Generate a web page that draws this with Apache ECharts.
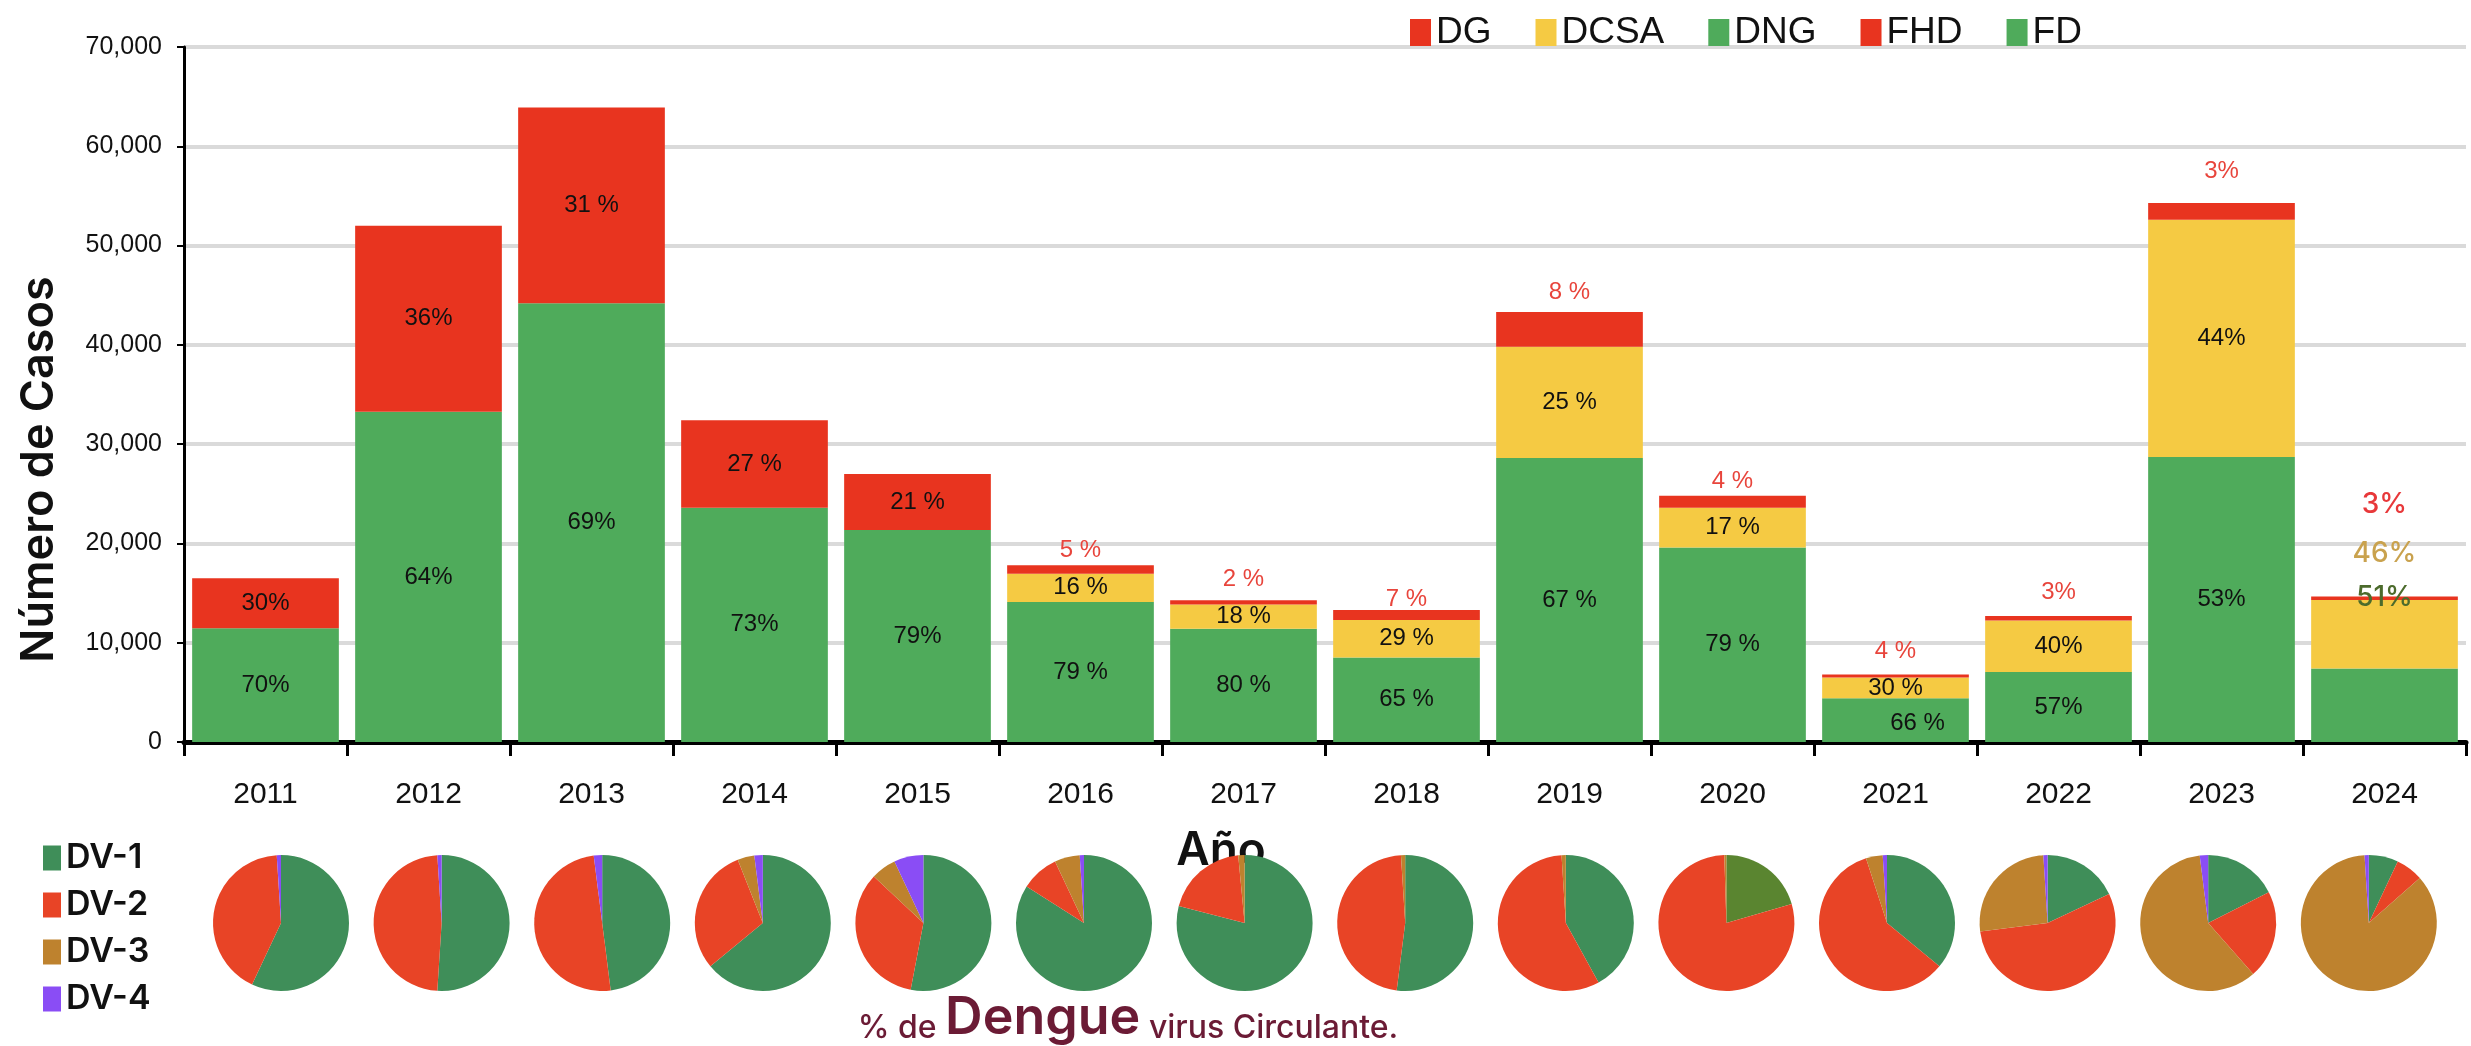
<!DOCTYPE html>
<html lang="es">
    <head>
        <meta charset="utf-8" />
        <title>Dengue - casos por año</title>
        <script src="https://cdn.jsdelivr.net/npm/echarts@6/dist/echarts.min.js"></script>
        <style>
            html, body { margin: 0; padding: 0; background: #fff; }
        </style>
    </head>
    <body>
    <div id="main" style="width: 2471px;height:1046px;"></div>
    <script type="text/javascript">
        // años
        const years = ['2011', '2012', '2013', '2014', '2015', '2016', '2017',
                       '2018', '2019', '2020', '2021', '2022', '2023', '2024'];

        // casos por clasificación
        const fdValues   = [11450, 33260, 44200, 23600, 21350, null, null, null, null, null, null, null, null, null];
        const fhdValues  = [5050, 18740, 19700, 8800, 5650, null, null, null, null, null, null, null, null, null];
        const dngValues  = [null, null, null, null, null, 14100, 11400, 8500, 28600, 19600, 4400, 7050, 28700, 7400];
        const dcsaValues = [null, null, null, null, null, 2850, 2450, 3800, 11200, 4000, 2100, 5200, 23900, 6900];
        const dgValues   = [null, null, null, null, null, 850, 430, 1000, 3500, 1200, 300, 450, 1700, 350];

        // etiquetas de porcentaje
        const greenLabels  = ['70%', '64%', '69%', '73%', '79%', '79 %', '80 %', '65 %', '67 %', '79 %', '66 %', '57%', '53%', '51%'];
        const yellowLabels = ['', '', '', '', '', '16 %', '18 %', '29 %', '25 %', '17 %', '30 %', '40%', '44%', '46%'];
        const redLabels    = ['30%', '36%', '31 %', '27 %', '21 %', '5 %', '2 %', '7 %', '8 %', '4 %', '4 %', '3%', '3%', '3%'];

        // % de serotipo circulante
        const serotypes = ['DV-1', 'DV-2', 'DV-3', 'DV-4'];
        const dv1 = [57, 51, 48, 64, 53, 84, 79, 52, 42, 20.5, 36, 18, 17.5, 7];
        const dv2 = [42, 48, 50, 30, 34, 9, 19.5, 47, 57, 79, 59, 55, 21, 6.5];
        const dv3 = [0, 0, 0, 4, 6, 6, 1.5, 1, 1, 0.5, 4, 26, 59.5, 85.5];
        const dv4 = [1, 1, 2, 2, 7, 1, 0, 0, 0, 0, 1, 1, 2, 1];

        const GREEN = '#4FAB5B', YELLOW = '#F5CA43', RED = '#E8341F';
        const pieColors = ['#3F8E59', '#E84426', '#BE822E', '#8A4DF5'];
        const sans = "'Liberation Sans', Arial, sans-serif";
        const geo = "Inter, 'Noto Sans', sans-serif";

        // distancia de las etiquetas rojas sobre la barra (2016+)
        const topGap = {5: 3, 6: 9, 7: -1, 8: 8, 9: 2, 10: 11, 11: 12, 12: 20};

        function build(values, labels, labelFn) {
            return values.map(function (v, i) {
                if (v == null) return null;
                const lab = Object.assign({formatter: labels[i]}, labelFn ? labelFn(i) : {});
                return {value: v, label: lab};
            });
        }

        const series = [
            {name: 'FD', data: build(fdValues, greenLabels), color: GREEN},
            {name: 'DNG', data: build(dngValues, greenLabels, function (i) {
                if (i === 10) return {offset: [22, 3]};
                if (i === 13) return {position: 'top', distance: 57, color: '#4C6B2C',
                    fontFamily: geo, fontWeight: 500, fontSize: 28};
                return {};
            }), color: GREEN},
            {name: 'DCSA', data: build(dcsaValues, yellowLabels, function (i) {
                if (i === 13) return {position: 'top', distance: 32, color: '#C9A24E',
                    fontFamily: geo, fontWeight: 500, fontSize: 28};
                return {};
            }), color: YELLOW},
            {name: 'FHD', data: build(fhdValues, redLabels), color: RED},
            {name: 'DG', data: build(dgValues, redLabels, function (i) {
                if (i === 13) return {position: 'top', distance: 78, color: '#E8383A',
                    fontFamily: geo, fontWeight: 500, fontSize: 28};
                return {position: 'top', distance: topGap[i], color: '#E8453C'};
            }), color: RED}
        ].map(function (s) {
            return Object.assign({
                type: 'bar',
                stack: 'total',
                barCategoryGap: '10%',
                itemStyle: {color: s.color},
                label: {show: true, position: 'inside', color: '#111',
                        fontFamily: sans, fontSize: 24},
                emphasis: {disabled: true}
            }, s);
        });

        // pasteles por año
        const pieX0 = 281, pieStep = 160.6, pieY = 923;
        years.forEach(function (y, i) {
            const vals = [dv1[i], dv2[i], dv3[i], dv4[i]];
            series.push({
                type: 'pie',
                name: 'pie' + y,
                center: [pieX0 + i * pieStep, pieY],
                radius: 68,
                startAngle: 90,
                silent: true,
                label: {show: false},
                labelLine: {show: false},
                data: serotypes.map(function (n, k) {
                    let c = pieColors[k];
                    if (y === '2020' && k === 0) c = '#5A8530';
                    return {name: n, value: vals[k], itemStyle: {color: c}};
                })
            });
        });

        const myChart = echarts.init(document.getElementById('main'));
        const option = {
            animation: false,
            backgroundColor: '#fff',
            grid: {left: 184, right: 5, top: 47, bottom: 304},
            legend: [{
                data: ['DG', 'DCSA', 'DNG', 'FHD', 'FD'],
                left: 1405,
                top: 9,
                icon: 'rect',
                itemWidth: 21,
                itemHeight: 27,
                itemGap: 44,
                textStyle: {fontFamily: sans, fontSize: 37, color: '#111'}
            }, {
                data: serotypes,
                orient: 'vertical',
                left: 38,
                top: 836,
                icon: 'rect',
                itemWidth: 18,
                itemHeight: 25,
                itemGap: 13,
                textStyle: {fontFamily: geo, fontWeight: 600, fontSize: 34, color: '#111'}
            }],
            xAxis: {
                type: 'category',
                data: years,
                axisLine: {lineStyle: {color: '#000', width: 5}},
                axisTick: {show: true, length: 14, lineStyle: {color: '#000', width: 3}},
                axisLabel: {fontFamily: sans, fontSize: 30, color: '#111', margin: 38}
            },
            yAxis: {
                type: 'value',
                min: 0,
                max: 70000,
                interval: 10000,
                name: 'Número de Casos',
                nameLocation: 'middle',
                nameGap: 122,
                nameTextStyle: {fontFamily: geo, fontWeight: 600, fontSize: 45, color: '#111',
                                padding: [0, 150, 0, 0]},
                axisLine: {show: true, lineStyle: {color: '#000', width: 3}},
                axisTick: {show: true, length: 7, lineStyle: {color: '#000', width: 2}},
                axisLabel: {fontFamily: sans, fontSize: 25, color: '#111', margin: 22,
                    formatter: function (v) { return v.toLocaleString('en-US'); }},
                splitLine: {lineStyle: {color: '#DADADA', width: 4}}
            },
            graphic: [{
                type: 'text',
                x: 1221, y: 851,
                style: {text: 'Año', fontFamily: geo, fontWeight: 600, fontSize: 46,
                        fill: '#111', align: 'center', verticalAlign: 'middle'}
            }, {
                type: 'text',
                x: 1128, y: 1018,
                style: {
                    text: '{a|% de }{b|Dengue}{a| virus Circulante.}',
                    align: 'center', verticalAlign: 'middle',
                    rich: {
                        a: {fontFamily: geo, fontWeight: 500, fontSize: 32, fill: '#6B1B35', verticalAlign: 'bottom'},
                        b: {fontFamily: geo, fontWeight: 600, fontSize: 52, fill: '#6B1B35', verticalAlign: 'bottom'}
                    }
                }
            }],
            series: series
        };
        myChart.setOption(option);
    </script>
    </body>
</html>
